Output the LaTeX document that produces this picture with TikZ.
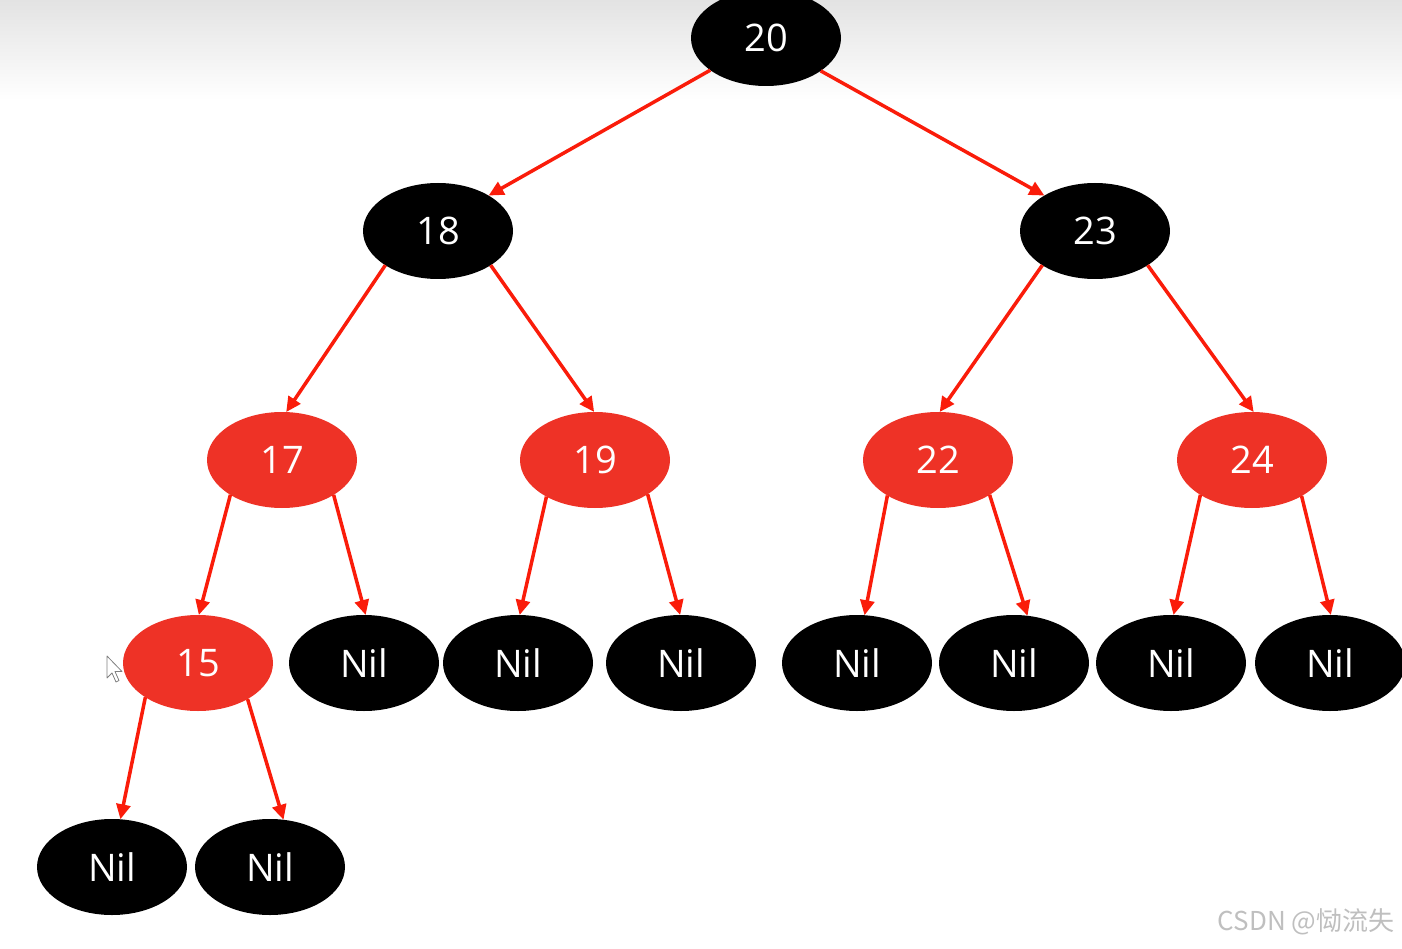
\documentclass[tikz,border=0pt]{standalone}
\usepackage{fontspec}
\setmainfont{Open Sans}
\newfontfamily\cjk{Noto Sans CJK SC}
\usetikzlibrary{arrows.meta,shapes.geometric}
\definecolor{nodered}{RGB}{238,50,38}
\definecolor{edgered}{RGB}{250,28,10}
\begin{document}
\begin{tikzpicture}[x=1pt,y=-1pt,
  tnode/.style={ellipse,minimum width=150pt,minimum height=96pt,inner sep=0pt,outer sep=0pt,
    text=white,font=\fontsize{38}{42}\selectfont},
  blk/.style={tnode,fill=black},
  rd/.style={tnode,fill=nodered},
  edge/.style={draw=edgered,line width=3.5pt,-{Triangle[length=15pt,width=14pt]}}]
\useasboundingbox (0,0) rectangle (1402,949);
\shade[top color=black!11,bottom color=white] (0,0) rectangle (1402,100);
% nodes
\node[blk] (n20) at (766,38) {20};
\node[blk] (n18) at (438,231) {18};
\node[blk] (n23) at (1095,231) {23};
\node[rd] (n17) at (282,460) {17};
\node[rd] (n19) at (595,460) {19};
\node[rd] (n22) at (938,460) {22};
\node[rd] (n24) at (1252,460) {24};
\node[rd] (n15) at (198,663) {15};
\node[blk] (nil1) at (364,663) {Nil};
\node[blk] (nil2) at (518,663) {Nil};
\node[blk] (nil3) at (681,663) {Nil};
\node[blk] (nil4) at (857,663) {Nil};
\node[blk] (nil5) at (1014,663) {Nil};
\node[blk] (nil6) at (1171,663) {Nil};
\node[blk] (nil7) at (1330,663) {Nil};
\node[blk] (nila) at (112,867) {Nil};
\node[blk] (nilb) at (270,867) {Nil};
% edges
\draw[edge] (n20.210) -- (n18.35);
\draw[edge] (n20.329) -- (n23.145);
\draw[edge] (n18.213) -- (n17.85);
\draw[edge] (n18.327) -- (n19.91);
\draw[edge] (n23.213) -- (n22.88);
\draw[edge] (n23.327) -- (n24.88);
\draw[edge] (n17.214) -- (n15.89);
\draw[edge] (n17.326) -- (nil1.88);
\draw[edge] (n19.217) -- (nil2.88);
\draw[edge] (n19.327) -- (nil3.91);
\draw[edge] (n22.215) -- (nil4.81);
\draw[edge] (n22.326) -- (nil5.74);
\draw[edge] (n24.214) -- (nil6.87);
\draw[edge] (n24.324) -- (nil7.89);
\draw[edge] (n15.213) -- (nila.80);
\draw[edge] (n15.324) -- (nilb.74);
% cursor
\draw[gray,fill=white,line width=0.8pt,line join=round]
  (107,656) -- ++(0,22) -- ++(5,-5) -- ++(4,9) -- ++(3,-1.5) -- ++(-4,-9) -- ++(7,0) -- cycle;
% watermark
\node[text=black!25,font=\cjk\fontsize{26}{30}\selectfont] (wm) at (1306,922) {CSDN @恸流失};
\end{tikzpicture}
\end{document}
